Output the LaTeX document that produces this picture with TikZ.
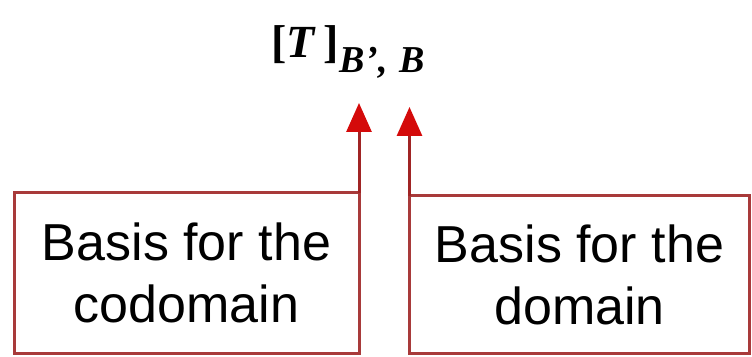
\documentclass[tikz,border=0pt]{standalone}
\usepackage{fontspec}
\setmainfont{Liberation Serif}
\newfontfamily\boxfont{Liberation Sans}
\usetikzlibrary{arrows.meta}
\definecolor{shaftred}{HTML}{A02424}
\definecolor{boxred}{HTML}{A83A3A}
\definecolor{tipred}{HTML}{D40A0A}
\begin{document}
\begin{tikzpicture}[x=1pt,y=1pt,
  labelbox/.style={draw=boxred, line width=3pt, rectangle, inner sep=0pt, outer sep=0pt,
    align=center, font=\boxfont\fontsize{52}{62}\selectfont, text=black},
  uparrow/.style={draw=shaftred, line width=3pt,
    -{Triangle[length=29pt,width=25pt,color=tipred]}}]
\useasboundingbox (0,0) rectangle (752,356);
\node[labelbox, minimum width=345pt, minimum height=160pt] (codom) at (186.5,83) {Basis for the\\codomain};
\node[labelbox, minimum width=340pt, minimum height=157pt] (dom) at (579.5,81.5) {Basis for the\\domain};
\node[anchor=base west, inner sep=0pt] (title) at (271,298)
  {{\fontsize{46}{46}\selectfont\bfseries [\textit{T}\,]}\raisebox{-15pt}{\fontsize{38}{38}\selectfont\bfseries\itshape B\kern1pt',\kern12pt B}};
\coordinate (t1) at (359,253);
\coordinate (t2) at (409.5,249);
\draw[uparrow] (codom.north east) -- (t1);
\draw[uparrow] (dom.north west) -- (t2);
\end{tikzpicture}
\end{document}
